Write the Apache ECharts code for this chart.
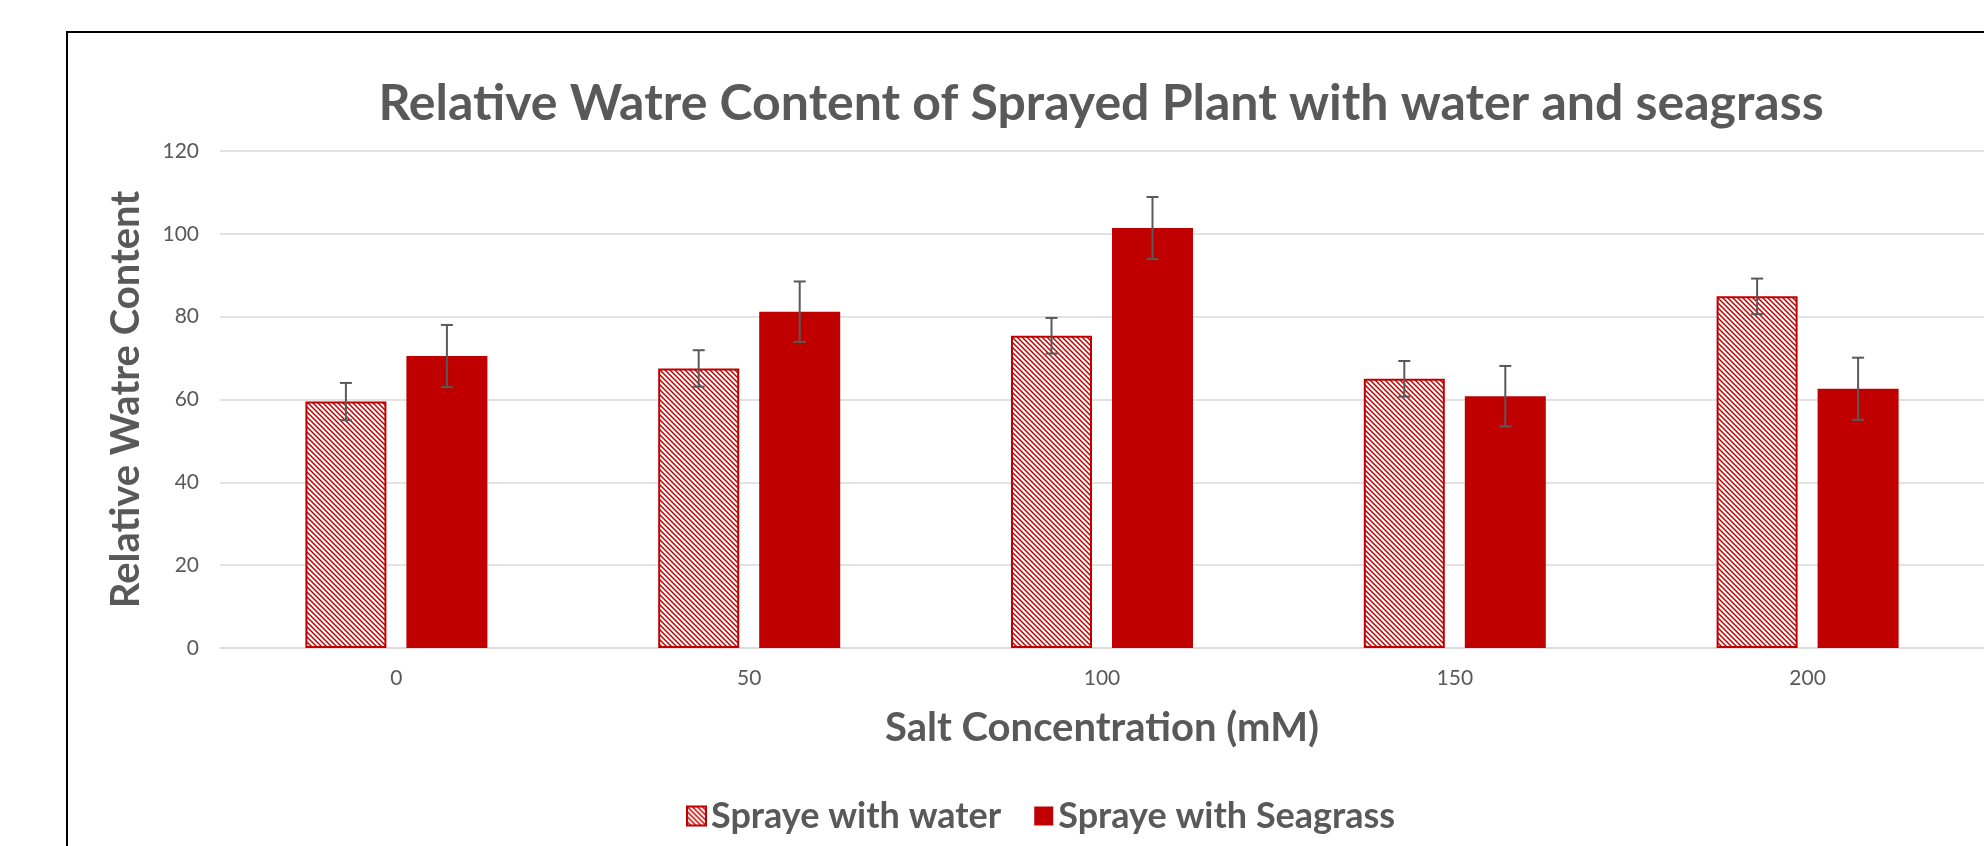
<!DOCTYPE html>
<html>
<head>
<meta charset="utf-8">
<script src="https://cdn.jsdelivr.net/npm/echarts@6/dist/echarts.min.js"></script>
<style>
  html, body { margin: 0; padding: 0; background: #fff; }
  #chart { width: 1984px; height: 846px; }
</style>
</head>
<body>
<div id="chart"></div>
<script>
// values
const categories = ['0', '50', '100', '150', '200']
const waterValues = [59.5, 67.5, 75.4, 65.0, 84.9]
const waterErrors = [4.5, 4.4, 4.3, 4.3, 4.3]
const seagrassValues = [70.5, 81.2, 101.4, 60.8, 62.6]
const seagrassErrors = [7.5, 7.3, 7.5, 7.3, 7.5]
const yTicks = [0, 20, 40, 60, 80, 100, 120]

const RED = '#C00000'
const GREY = '#595959'
const FONT = 'Lato, "Open Sans", sans-serif'
const BAR_W = 81
const BAR_GAP = 20

// diagonal hatch for the "water" bars
const makeHatch = () => {
  const c = document.createElement('canvas')
  c.width = 5
  c.height = 5
  const ctx = c.getContext('2d')
  ctx.fillStyle = '#fff'
  ctx.fillRect(0, 0, 5, 5)
  ctx.strokeStyle = RED
  ctx.lineWidth = 1.5
  ctx.beginPath()
  ctx.moveTo(-1, -1); ctx.lineTo(6, 6)
  ctx.moveTo(-1, 4); ctx.lineTo(1, 6)
  ctx.moveTo(4, -1); ctx.lineTo(6, 1)
  ctx.stroke()
  return c
}

// error bar rows: [categoryIndex, value, error, side]
const errRows = []
waterValues.forEach((v, i) => errRows.push([i, v, waterErrors[i], -1]))
seagrassValues.forEach((v, i) => errRows.push([i, v, seagrassErrors[i], 1]))

const renderErr = (params, api) => {
  const idx = api.value(0)
  const v = api.value(1)
  const e = api.value(2)
  const side = api.value(3)
  const hi = api.coord([idx, v + e])
  const lo = api.coord([idx, v - e])
  const x = hi[0] + side * (BAR_W + BAR_GAP) / 2
  const cap = 6
  const style = {stroke: GREY, lineWidth: 2}
  return {
    type: 'group',
    children: [
      {type: 'line', shape: {x1: x, y1: hi[1], x2: x, y2: lo[1]}, style},
      {type: 'line', shape: {x1: x - cap, y1: hi[1], x2: x + cap, y2: hi[1]}, style},
      {type: 'line', shape: {x1: x - cap, y1: lo[1], x2: x + cap, y2: lo[1]}, style}
    ]
  }
}

const chart = echarts.init(document.getElementById('chart'))

const option = {
  animation: false,
  backgroundColor: '#fff',
  title: {
    text: 'Relative Watre Content of Sprayed Plant with water and seagrass',
    left: 1096,
    top: 74,
    textAlign: 'center',
    textStyle: {fontFamily: FONT, fontWeight: 'bold', fontSize: 50, color: GREY}
  },
  graphic: [{
    type: 'rect',
    shape: {x: 67, y: 32, width: 2000, height: 900},
    style: {fill: 'none', stroke: '#000', lineWidth: 2},
    silent: true
  }],
  legend: {
    data: ['Spraye with water', 'Spraye with Seagrass'],
    left: 681,
    top: 793,
    itemWidth: 19,
    itemHeight: 19,
    itemGap: 33,
    icon: 'rect',
    textStyle: {fontFamily: FONT, fontWeight: 'bold', fontSize: 36, color: GREY}
  },
  grid: {left: 220, top: 151, width: 1767, height: 497},
  xAxis: {
    type: 'category',
    data: categories,
    name: 'Salt Concentration (mM)',
    nameLocation: 'middle',
    nameGap: 60,
    nameTextStyle: {fontFamily: FONT, fontWeight: 'bold', fontSize: 40, color: GREY},
    axisLine: {lineStyle: {color: '#d9d9d9', width: 1.5}},
    axisTick: {show: false},
    axisLabel: {fontFamily: FONT, fontSize: 21, color: GREY, margin: 20}
  },
  yAxis: {
    type: 'value',
    min: yTicks[0],
    max: yTicks[yTicks.length - 1],
    interval: 20,
    name: 'Relative Watre Content',
    nameLocation: 'middle',
    nameGap: 74,
    nameRotate: 90,
    nameTextStyle: {fontFamily: FONT, fontWeight: 'bold', fontSize: 40, color: GREY},
    axisLine: {show: false},
    axisTick: {show: false},
    axisLabel: {fontFamily: FONT, fontSize: 21, color: GREY, margin: 21},
    splitLine: {lineStyle: {color: '#d9d9d9', width: 1.5}}
  },
  series: [
    {
      name: 'Spraye with water',
      type: 'bar',
      data: waterValues,
      barWidth: BAR_W,
      barGap: (BAR_GAP / BAR_W * 100) + '%',
      itemStyle: {
        color: {image: makeHatch(), repeat: 'repeat'},
        borderColor: RED,
        borderWidth: 2
      }
    },
    {
      name: 'Spraye with Seagrass',
      type: 'bar',
      data: seagrassValues,
      barWidth: BAR_W,
      itemStyle: {color: RED}
    },
    {
      name: 'errors',
      type: 'custom',
      renderItem: renderErr,
      data: errRows,
      encode: {x: 0, y: 1},
      z: 10
    }
  ]
}

chart.setOption(option)
</script>
</body>
</html>
